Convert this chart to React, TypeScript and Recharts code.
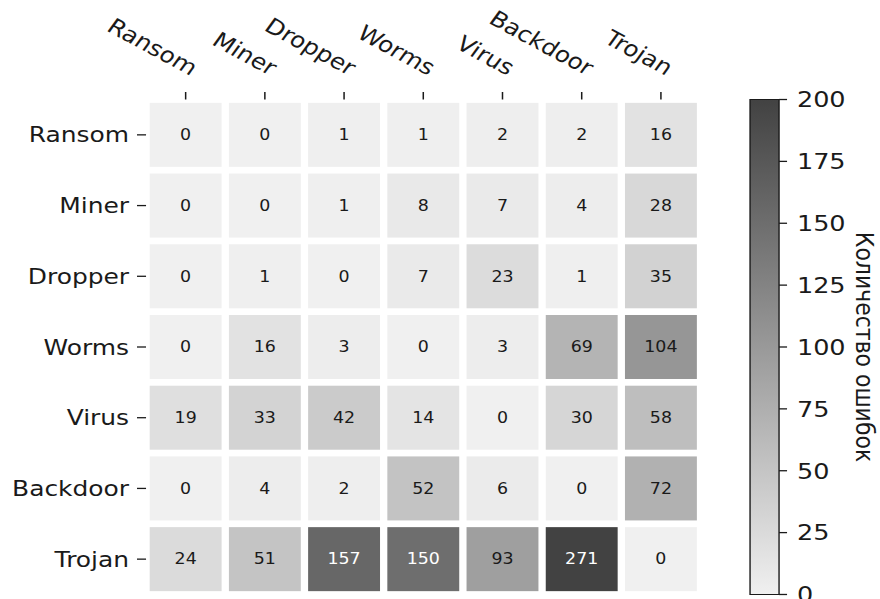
import { ScatterChart, Scatter, XAxis, YAxis, BarChart, Bar } from 'recharts';

// classi (righe = reale, colonne = predetto)
const classes = ['Ransom', 'Miner', 'Dropper', 'Worms', 'Virus', 'Backdoor', 'Trojan'];

const rowRansom = [0, 0, 1, 1, 2, 2, 16];
const rowMiner = [0, 0, 1, 8, 7, 4, 28];
const rowDropper = [0, 1, 0, 7, 23, 1, 35];
const rowWorms = [0, 16, 3, 0, 3, 69, 104];
const rowVirus = [19, 33, 42, 14, 0, 30, 58];
const rowBackdoor = [0, 4, 2, 52, 6, 0, 72];
const rowTrojan = [24, 51, 157, 150, 93, 271, 0];

const matrix = [rowRansom, rowMiner, rowDropper, rowWorms, rowVirus, rowBackdoor, rowTrojan];

const cbTicks = [0, 25, 50, 75, 100, 125, 150, 175, 200];
const cbMax = 200;
const cbLabel = 'Количество ошибок';

const cells = matrix.flatMap((row, r) => row.map((v, c) => ({ x: c, y: r, v })));
const axisTicks = classes.map((_, i) => i);

// l'immagine originale e' stirata in orizzontale
const S = 1.16;
const W = 880 / S;
const H = 599;
const FONT = 'DejaVu Sans';
const INK = '#1a1a1a';

const HW = 640;
const margin = { top: 69.5, right: 36.1, bottom: 4.5, left: 65.9 };
const plotW = HW - 60 - margin.left - margin.right;
const plotH = H - 30 - margin.top - margin.bottom;
const cellW = plotW / classes.length;
const cellH = plotH / classes.length;

const gray = (v: number) => {
    const g = Math.round(240 - 0.87 * Math.min(v, cbMax));
    return `rgb(${g},${g},${g})`;
};

function HeatCell(props: any) {
    const { cx, cy, payload } = props;
    const w = cellW - 6.3;
    const h = cellH - 6.7;
    return (
        <g>
            <rect x={cx - w / 2} y={cy - h / 2} width={w} height={h} fill={gray(payload.v)} />
            <text
                x={cx}
                y={cy}
                dy="0.355em"
                textAnchor="middle"
                fontFamily={FONT}
                fontSize={15}
                fill={payload.v > 120 ? '#ffffff' : INK}
            >
                {payload.v}
            </text>
        </g>
    );
}

function TopTick({ x, y, payload }: any) {
    return (
        <text
            transform={`translate(${x + 4.3},${y}) rotate(32)`}
            textAnchor="end"
            fontFamily={FONT}
            fontSize={21.5}
            fill={INK}
        >
            {classes[payload.value]}
        </text>
    );
}

function LeftTick({ x, y, payload }: any) {
    return (
        <text x={x} y={y} dy="0.355em" textAnchor="end" fontFamily={FONT} fontSize={21.5} fill={INK}>
            {classes[payload.value]}
        </text>
    );
}

function CbTitle(props: any) {
    const vb = props.viewBox || { x: 71.6, y: 99.5, height: 495 };
    const cx = vb.x + 74;
    const cy = vb.y + vb.height / 2;
    return (
        <text
            transform={`translate(${cx},${cy}) rotate(90)`}
            textAnchor="middle"
            dy="0.355em"
            fontFamily={FONT}
            fontSize={22}
            fill={INK}
        >
            {cbLabel}
        </text>
    );
}

export default function App() {
    return (
        <div style={{ position: 'absolute', left: 0, top: 0, width: 880, height: H, overflow: 'hidden', background: '#fff' }}>
            <svg width={0} height={0} style={{ position: 'absolute' }}>
                <defs>
                    <linearGradient id="cbGrad" x1="0" y1="0" x2="0" y2="1">
                        <stop offset="0%" stopColor={gray(cbMax)} />
                        <stop offset="100%" stopColor={gray(0)} />
                    </linearGradient>
                </defs>
            </svg>
            <div
                style={{
                    position: 'absolute',
                    left: 0,
                    top: 0,
                    width: W,
                    height: H,
                    transform: `scale(${S}, 1)`,
                    transformOrigin: '0 0',
                }}
            >
                <div style={{ position: 'absolute', left: 0, top: 0 }}>
                    <ScatterChart width={HW} height={H} margin={margin}>
                        <XAxis
                            type="number"
                            dataKey="x"
                            orientation="top"
                            height={30}
                            domain={[-0.5, 6.5]}
                            ticks={axisTicks}
                            interval={0}
                            allowDataOverflow
                            axisLine={false}
                            tickSize={7.5}
                            tickMargin={16}
                            tickLine={{ stroke: INK, strokeWidth: 1.3 }}
                            tick={<TopTick />}
                        />
                        <YAxis
                            type="number"
                            dataKey="y"
                            width={60}
                            reversed
                            domain={[-0.5, 6.5]}
                            ticks={axisTicks}
                            interval={0}
                            allowDataOverflow
                            axisLine={false}
                            tickSize={7.8}
                            tickMargin={6.8}
                            tickLine={{ stroke: INK, strokeWidth: 1.3 }}
                            tick={<LeftTick />}
                        />
                        <Scatter data={cells} shape={<HeatCell />} isAnimationActive={false} />
                    </ScatterChart>
                </div>
                <div style={{ position: 'absolute', left: 600, top: 0 }}>
                    <BarChart
                        width={W - 600}
                        height={H}
                        data={[{ name: 'cb', v: cbMax }]}
                        margin={{ top: 99.5, right: W - 600 - 71.6 - 60, bottom: 4.5, left: 46.6 }}
                        barCategoryGap={0}
                        barGap={0}
                    >
                        <XAxis dataKey="name" hide />
                        <YAxis
                            orientation="right"
                            width={60}
                            domain={[0, cbMax]}
                            ticks={cbTicks}
                            interval={0}
                            axisLine={false}
                            tickSize={6.9}
                            tickMargin={8.5}
                            tickLine={{ stroke: INK, strokeWidth: 1.3 }}
                            tick={{ fontFamily: FONT, fontSize: 22, fill: INK }}
                            label={<CbTitle />}
                        />
                        <Bar dataKey="v" fill="url(#cbGrad)" stroke={INK} strokeWidth={1.2} isAnimationActive={false} />
                    </BarChart>
                </div>
            </div>
        </div>
    );
}
